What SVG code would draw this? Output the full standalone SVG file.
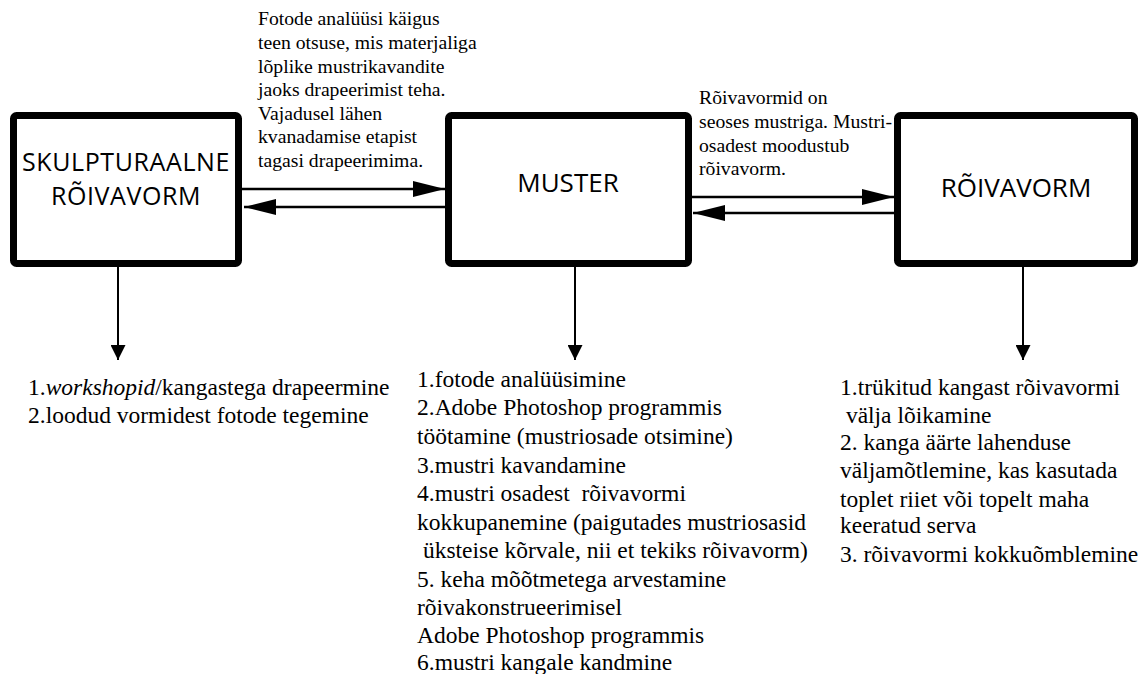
<svg xmlns="http://www.w3.org/2000/svg" width="1148" height="674" viewBox="0 0 1148 674">
<style>
.box{fill:#fff;stroke:#000;stroke-width:7}
.bt{font-family:"Open Sans","Noto Sans",sans-serif;font-size:26px;fill:#000;text-anchor:middle}
.lbl{font-family:"Liberation Serif","Times New Roman",serif;font-size:19.7px;fill:#000}
.lst{font-family:"Liberation Serif","Times New Roman",serif;font-size:23.5px;fill:#000}
.h{stroke:#000;stroke-width:2.5;fill:none}
.v{stroke:#000;stroke-width:2;fill:none}
</style>
<defs>
<marker id="big" viewBox="0 0 32 16" refX="32" refY="8" markerWidth="32" markerHeight="16" markerUnits="userSpaceOnUse" orient="auto">
<path d="M0,0 L32,8 L0,16 Z" fill="#000"/>
</marker>
<marker id="small" viewBox="0 0 15 15" refX="15" refY="7.5" markerWidth="15" markerHeight="15" markerUnits="userSpaceOnUse" orient="auto">
<path d="M0,0 L15,7.5 L0,15 Z" fill="#000"/>
</marker>
</defs>
<rect width="1148" height="674" fill="#fff"/>
<g id="connectors">
<line class="h" x1="242" y1="189" x2="445" y2="189" marker-end="url(#big)"/>
<line class="h" x1="445" y1="207" x2="244" y2="207" marker-end="url(#big)"/>
<line class="h" x1="692" y1="197" x2="894" y2="197" marker-end="url(#big)"/>
<line class="h" x1="894" y1="213" x2="693" y2="213" marker-end="url(#big)"/>
<line class="v" x1="118" y1="267" x2="118" y2="360" marker-end="url(#small)"/>
<line class="v" x1="575" y1="267" x2="575" y2="360" marker-end="url(#small)"/>
<line class="v" x1="1023" y1="267" x2="1023" y2="360" marker-end="url(#small)"/>
</g>
<g id="node-skulpturaalne">
<rect class="box" x="13.5" y="115.5" width="225" height="148" rx="3"/>
<text class="bt" x="126" y="170.5" style="font-size:25px;letter-spacing:0.6px">SKULPTURAALNE</text>
<text class="bt" x="126" y="205" style="font-size:25px;letter-spacing:0.6px">RÕIVAVORM</text>
</g>
<g id="node-muster">
<rect class="box" x="448.5" y="115.5" width="240" height="148" rx="3"/>
<text class="bt" x="568" y="192">MUSTER</text>
</g>
<g id="node-roivavorm">
<rect class="box" x="897.5" y="115.5" width="237" height="148" rx="3"/>
<text class="bt" x="1016" y="197">RÕIVAVORM</text>
</g>
<g id="label-top">
<text class="lbl" x="258" y="25">Fotode analüüsi käigus</text>
<text class="lbl" x="258" y="49">teen otsuse, mis materjaliga</text>
<text class="lbl" x="258" y="73">lõplike mustrikavandite</text>
<text class="lbl" x="258" y="96">jaoks drapeerimist teha.</text>
<text class="lbl" x="258" y="120">Vajadusel lähen</text>
<text class="lbl" x="258" y="143">kvanadamise etapist</text>
<text class="lbl" x="258" y="167">tagasi drapeerimima.</text>
</g>
<g id="label-right">
<text class="lbl" x="699" y="104">Rõivavormid on</text>
<text class="lbl" x="699" y="128">seoses mustriga. Mustri-</text>
<text class="lbl" x="699" y="152">osadest moodustub</text>
<text class="lbl" x="699" y="175">rõivavorm.</text>
</g>
<g id="list-left">
<text class="lst" x="28" y="395">1.<tspan font-style="italic">workshopid</tspan>/kangastega drapeermine</text>
<text class="lst" x="28" y="423">2.loodud vormidest fotode tegemine</text>
</g>
<g id="list-middle">
<text class="lst" x="417" y="387">1.fotode analüüsimine</text>
<text class="lst" x="417" y="415">2.Adobe Photoshop programmis</text>
<text class="lst" x="417" y="444">töötamine (mustriosade otsimine)</text>
<text class="lst" x="417" y="473">3.mustri kavandamine</text>
<text class="lst" x="417" y="501" xml:space="preserve">4.mustri osadest  rõivavormi</text>
<text class="lst" x="417" y="530">kokkupanemine (paigutades mustriosasid</text>
<text class="lst" x="417" y="558" xml:space="preserve"> üksteise kõrvale, nii et tekiks rõivavorm)</text>
<text class="lst" x="417" y="587">5. keha mõõtmetega arvestamine</text>
<text class="lst" x="417" y="615">rõivakonstrueerimisel</text>
<text class="lst" x="417" y="643">Adobe Photoshop programmis</text>
<text class="lst" x="417" y="670">6.mustri kangale kandmine</text>
</g>
<g id="list-right">
<text class="lst" x="840" y="395">1.trükitud kangast rõivavormi</text>
<text class="lst" x="840" y="423" xml:space="preserve"> välja lõikamine</text>
<text class="lst" x="840" y="450">2. kanga äärte lahenduse</text>
<text class="lst" x="840" y="478">väljamõtlemine, kas kasutada</text>
<text class="lst" x="840" y="507">toplet riiet või topelt maha</text>
<text class="lst" x="840" y="533">keeratud serva</text>
<text class="lst" x="840" y="562">3. rõivavormi kokkuõmblemine</text>
</g>
</svg>
